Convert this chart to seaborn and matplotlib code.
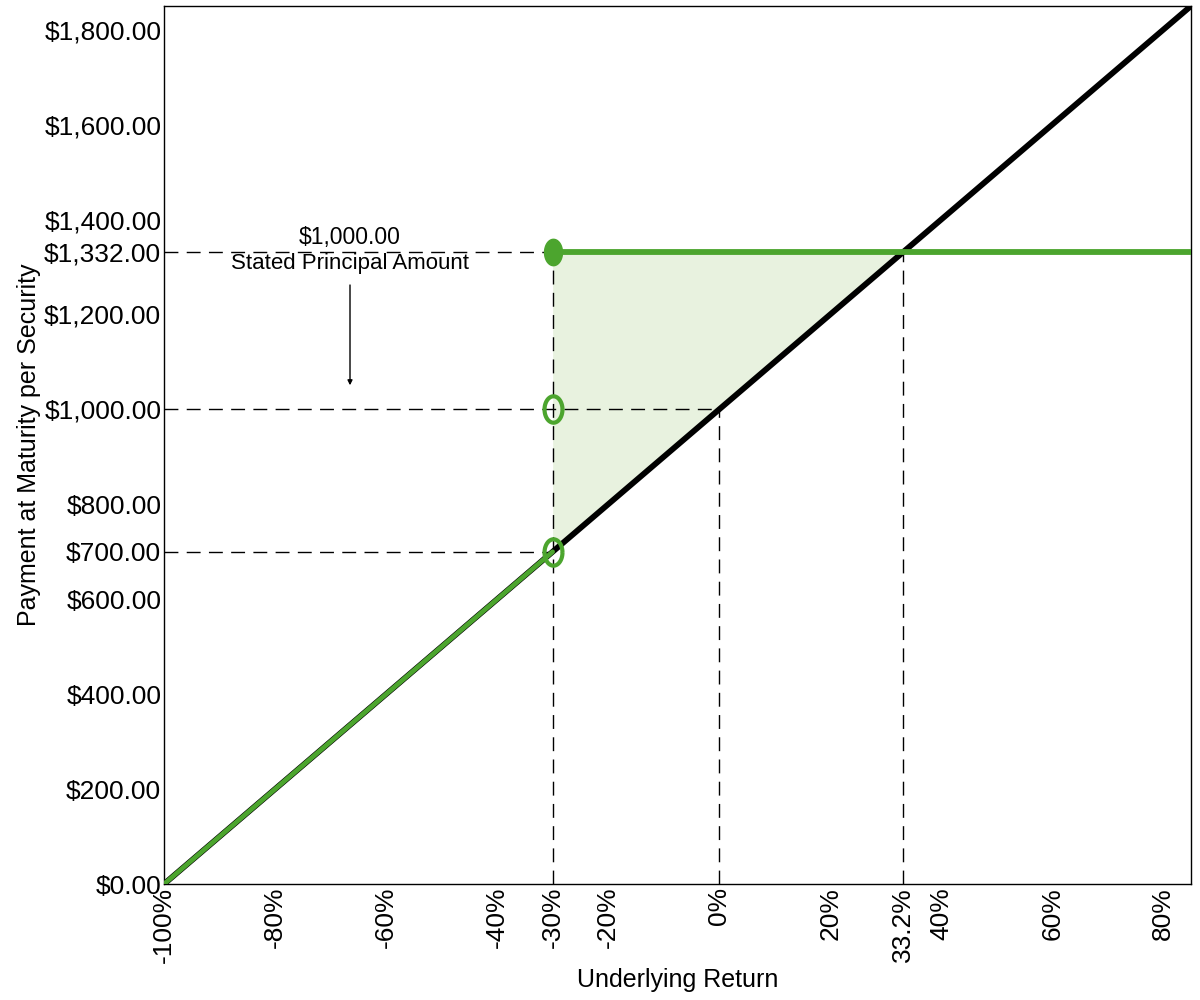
import matplotlib
matplotlib.use("Agg")
import matplotlib.pyplot as plt
import seaborn as sns
import numpy as np
import pandas as pd
from matplotlib.path import Path

# ---- data ----
x_ticks = [-100, -80, -60, -40, -30, -20, 0, 20, 33.2, 40, 60, 80]
x_tick_labels = ["-100%", "-80%", "-60%", "-40%", "-30%", "-20%", "0%", "20%", "33.2%", "40%", "60%", "80%"]
y_ticks = [0, 200, 400, 600, 700, 800, 1000, 1200, 1332, 1400, 1600, 1800]
y_tick_labels = ["$0.00", "$200.00", "$400.00", "$600.00", "$700.00", "$800.00", "$1,000.00",
                 "$1,200.00", "$1,332.00", "$1,400.00", "$1,600.00", "$1,800.00"]

underlying_x = [-100, 85]
underlying_y = [0, 1850]
note_down_x = [-100, -30]
note_down_y = [0, 700]
note_cap_x = [-30, 85]
note_cap_y = [1332, 1332]
fill_x = [-30, 33.2]
fill_low = [700, 1332]
fill_high = [1332, 1332]
threshold = -30
cap_level = 1332
principal = 1000
barrier_value = 700
cap_return = 33.2

sns.set_theme(style="white")
plt.rcParams['font.family'] = ['Liberation Sans', 'DejaVu Sans']
plt.rcParams['text.color'] = 'black'
plt.rcParams['axes.labelcolor'] = 'black'
plt.rcParams['xtick.color'] = 'black'
plt.rcParams['ytick.color'] = 'black'

green = "#4CA52E"
fig = plt.figure(figsize=(12, 10), dpi=100)
ax = fig.add_axes([0.1367, 0.116, 0.8558, 0.878])

# fill
ax.fill_between(fill_x, fill_low, fill_high, color="#E8F2DF", linewidth=0, zorder=1)

# dashed reference lines
dash = dict(color="black", linewidth=1.0, dashes=(10, 6), zorder=2)
ax.plot([-100, threshold], [cap_level, cap_level], **dash)
ax.plot([-100, 0], [principal, principal], **dash)
ax.plot([-100, threshold], [barrier_value, barrier_value], **dash)
ax.plot([threshold, threshold], [0, cap_level], **dash)
ax.plot([0, 0], [0, principal], **dash)
ax.plot([cap_return, cap_return], [0, cap_level], **dash)

# lines
df_u = pd.DataFrame({"x": underlying_x, "y": underlying_y})
sns.lineplot(data=df_u, x="x", y="y", color="black", linewidth=4.2, ax=ax, zorder=3)
df_d = pd.DataFrame({"x": note_down_x, "y": note_down_y})
sns.lineplot(data=df_d, x="x", y="y", color=green, linewidth=3.4, ax=ax, zorder=4)
df_c = pd.DataFrame({"x": note_cap_x, "y": note_cap_y})
sns.lineplot(data=df_c, x="x", y="y", color=green, linewidth=4.2, ax=ax, zorder=4)

# ellipse markers
t = np.linspace(0, 2 * np.pi, 60)
ell = Path(np.column_stack([0.68 * np.cos(t), np.sin(t)]))
ax.plot([threshold], [cap_level], marker=ell, markersize=19, color=green, linestyle="none", zorder=5)
ax.plot([threshold, threshold], [principal, barrier_value], marker=ell, markersize=19,
        markerfacecolor="none", markeredgecolor=green, markeredgewidth=3, linestyle="none", zorder=5)

# annotation
ax.text(-66.5, 1362, "$1,000.00", ha="center", va="center", fontsize=16.5, color="black")
ax.text(-66.5, 1307, "Stated Principal Amount", ha="center", va="center", fontsize=16, color="black")
ax.annotate("", xy=(-66.5, 1045), xytext=(-66.5, 1268),
            arrowprops=dict(arrowstyle="-|>", color="black", lw=1.0, mutation_scale=7))

ax.set_xlim(-100, 85)
ax.set_ylim(0, 1850)
ax.set_xticks(x_ticks)
ax.set_xticklabels(x_tick_labels, rotation=90, fontsize=19)
ax.set_yticks(y_ticks)
ax.set_yticklabels(y_tick_labels, fontsize=19)
ax.tick_params(axis="both", length=0, pad=2, colors="black")
ax.set_xlabel("Underlying Return", fontsize=18, labelpad=4, color="black")
ax.set_ylabel("Payment at Maturity per Security", fontsize=18, labelpad=2, color="black")
for s in ax.spines.values():
    s.set_color("black")
    s.set_linewidth(1.0)
ax.grid(False)

fig.savefig("out.png", dpi=100)
